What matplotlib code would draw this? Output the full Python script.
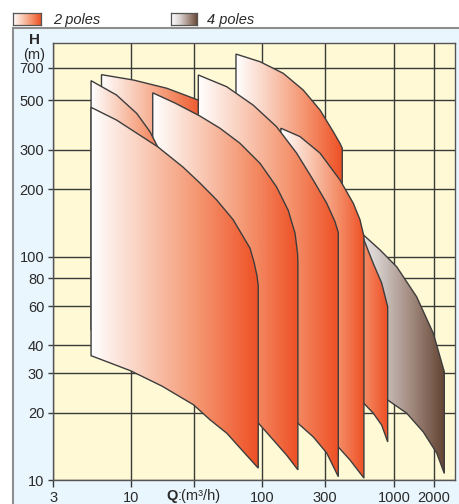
import numpy as np
import matplotlib.pyplot as plt
from matplotlib.colors import LinearSegmentedColormap
from matplotlib.patches import Polygon, Rectangle
from matplotlib.ticker import FixedLocator, NullLocator

plt.rcParams['font.family'] = ['Liberation Sans', 'DejaVu Sans']

# Q (m3/h) / H (m), one envelope per pump range
# 4 poles
p4_top_q = [388, 479, 584, 782, 1046, 1484, 1985, 2405]
p4_top_h = [188, 161, 125, 107, 90, 66, 45.3, 30.5]
p4_bot_q = [388, 591, 894, 1246, 1666, 2106, 2405]
p4_bot_h = [34.4, 28.6, 22.8, 19.9, 16.4, 13.2, 10.7]

# 2 poles
r900_top_q = [230, 388, 591, 695, 805, 894]
r900_top_h = [232, 179, 118.5, 93, 76, 59.6]
r900_bot_q = [230, 388, 591, 695, 805, 894]
r900_bot_h = [31, 26.6, 22, 19.9, 17.6, 14.8]

r400_top_q = [63, 96, 144, 204, 274, 345, 388, 404]
r400_top_h = [805, 744, 660, 556, 452, 362, 321, 305]
r400_bot_q = [63, 136, 404]
r400_bot_h = [47, 34, 18.6]

r590_top_q = [138, 193, 274, 388, 490, 551, 590]
r590_top_h = [375, 344, 290, 220, 173, 146, 123]
r590_bot_q = [138, 230, 375, 462, 590]
r590_bot_h = [25.3, 19.5, 14.1, 12.3, 10.2]

r37_top_q = [6.0, 10.5, 18.8, 32.6, 36.7]
r37_top_h = [651, 616, 566, 501, 481]
r37_bot_q = [6.0, 14, 36.7]
r37_bot_h = [52, 40, 31]

r377_top_q = [32.6, 53.6, 85, 128, 182, 243, 308, 356, 377]
r377_top_h = [649, 575, 476, 381, 290, 220, 173, 143, 128]
r377_bot_q = [32.6, 80.5, 187, 243, 308, 377]
r377_bot_h = [38, 26.6, 17.9, 15.6, 13.2, 10.35]

r186_top_q = [14.7, 21.7, 33.6, 47.6, 67.6, 96, 128, 157, 177, 185, 186]
r186_top_h = [540, 486, 425, 375, 321, 261, 205, 161, 127, 103, 93.5]
r186_bot_q = [14.7, 33.6, 56.8, 91.5, 121, 153, 186]
r186_bot_h = [38, 29.5, 24, 18.2, 15.1, 12.9, 11.1]

r23_top_q = [5.0, 7.8, 11.1, 14, 16, 19.9, 22.9]
r23_top_h = [612, 528, 437, 362, 310, 232, 179]
r23_bot_q = [5.0, 10, 22.9]
r23_bot_h = [47, 38, 28]

r93_top_q = [5.0, 7.8, 16, 25, 33.6, 45, 60, 80.5, 86.3, 91, 93]
r93_top_h = [465, 408, 310, 251, 213, 179, 146, 109, 94.5, 82, 74]
r93_bot_q = [5.0, 10, 17.3, 30, 40, 53.6, 71.6, 93]
r93_bot_h = [36, 30.8, 26.3, 21.7, 18.6, 16.2, 13.4, 11.3]

y_ticks = [10, 20, 30, 40, 60, 80, 100, 200, 300, 500, 700]
y_labels = ['10', '20', '30', '40', '60', '80', '100', '200', '300', '500', '700']
x_ticks = [2.584, 10, 30, 100, 300, 1000, 2000]
x_labels = ['3', '10', '', '100', '300', '1000', '2000']

orange = LinearSegmentedColormap.from_list(
    'p2', ['#FFFFFF', '#F9C9B5', '#F4916B', '#EE4F24'])
brown = LinearSegmentedColormap.from_list(
    'p4', ['#FFFFFF', '#D9D3D1', '#A48D82', '#634332'])

grad = np.linspace(0, 1, 256).reshape(1, -1)
edge = '#3d3d3d'
dark = '#2a2a2a'

fig = plt.figure(figsize=(4.59, 5.04), dpi=100)

# light blue panel behind the chart
panel = Rectangle((13.3 / 459, -0.01), 1.0, (504 - 28.3) / 504 + 0.01,
                  transform=fig.transFigure, fc='#EAF6FD', ec='#8E8E8E',
                  lw=1.5, zorder=-10)
fig.patches.append(panel)

ax = fig.add_axes([53.3 / 459, 24 / 504, 401.7 / 459, 437.3 / 504])
ax.set_zorder(2)
ax.set_facecolor('#FFFAD5')
ax.set_xscale('log')
ax.set_yscale('log')
ax.set_xlim(2.584, 2900)
ax.set_ylim(10, 905)

ax.xaxis.set_major_locator(FixedLocator(x_ticks))
ax.xaxis.set_minor_locator(NullLocator())
ax.set_xticklabels(x_labels)
ax.yaxis.set_major_locator(FixedLocator(y_ticks))
ax.yaxis.set_minor_locator(NullLocator())
ax.set_yticklabels(y_labels)

ax.grid(True, color='#3a3a3a', lw=1.0)
ax.set_axisbelow(True)
ax.tick_params(width=1, color='#3a3a3a', labelsize=10.5, labelcolor=dark)
ax.tick_params(axis='x', length=5, pad=3)
ax.tick_params(axis='y', length=3.5, pad=3)
for s in ax.spines.values():
    s.set_color('#555555')
    s.set_linewidth(1.0)


def to_axes(q, h):
    return ax.transAxes.inverted().transform(ax.transData.transform((q, h)))


def draw_range(top_q, top_h, bot_q, bot_h, cmap, z):
    pts = list(zip(top_q, top_h)) + list(zip(bot_q[::-1], bot_h[::-1]))
    poly = Polygon(pts, closed=True, fc='none', ec=edge, lw=1.0, zorder=z + 0.5)
    ax.add_patch(poly)
    x0, y0 = to_axes(min(top_q), min(bot_h))
    x1, y1 = to_axes(max(top_q), max(top_h))
    im = ax.imshow(grad, cmap=cmap, extent=[x0, x1, y0, y1],
                   transform=ax.transAxes, aspect='auto', zorder=z,
                   interpolation='bilinear')
    im.set_clip_path(poly)


ranges = [
    (p4_top_q, p4_top_h, p4_bot_q, p4_bot_h, brown),
    (r900_top_q, r900_top_h, r900_bot_q, r900_bot_h, orange),
    (r400_top_q, r400_top_h, r400_bot_q, r400_bot_h, orange),
    (r590_top_q, r590_top_h, r590_bot_q, r590_bot_h, orange),
    (r37_top_q, r37_top_h, r37_bot_q, r37_bot_h, orange),
    (r377_top_q, r377_top_h, r377_bot_q, r377_bot_h, orange),
    (r186_top_q, r186_top_h, r186_bot_q, r186_bot_h, orange),
    (r23_top_q, r23_top_h, r23_bot_q, r23_bot_h, orange),
    (r93_top_q, r93_top_h, r93_bot_q, r93_bot_h, orange),
]
for i, (tq, th, bq, bh, cm) in enumerate(ranges):
    draw_range(tq, th, bq, bh, cm, 2 + i)

ax.set_xlim(2.584, 2900)
ax.set_ylim(10, 905)

# axis titles
fig.text(34 / 459, 1 - 40 / 504, 'H', weight='bold', ha='center',
         va='center', fontsize=11, color=dark)
fig.text(34 / 459, 1 - 55.5 / 504, '(m)', ha='center', va='center',
         fontsize=10.5, color=dark)
fig.text(178 / 459, 1 - 500 / 504, 'Q', weight='bold', ha='right',
         va='baseline', fontsize=10.5, color=dark)
fig.text(178 / 459, 1 - 500 / 504, ':(m\u00b3/h)', ha='left',
         va='baseline', fontsize=10.5, color=dark)

# legend
for x0, w, cm, label, tx in [(13.3, 27.7, orange, '2 poles', 52.7),
                             (170.7, 26.3, brown, '4 poles', 207.3)]:
    sw = fig.add_axes([x0 / 459, 1 - 25 / 504, w / 459, 11.7 / 504])
    sw.imshow(grad, cmap=cm, aspect='auto', extent=[0, 1, 0, 1])
    sw.set_xticks([])
    sw.set_yticks([])
    for s in sw.spines.values():
        s.set_color('#555555')
        s.set_linewidth(0.9)
    fig.text(tx / 459, 1 - 20 / 504, label, style='italic', va='center',
             fontsize=10.5, color=dark)

plt.savefig('out.png', dpi=100)
plt.close()
